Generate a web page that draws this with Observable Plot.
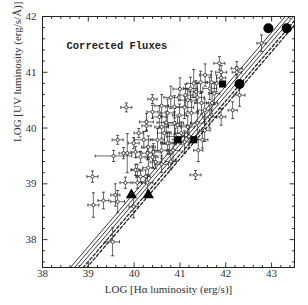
<!DOCTYPE html>
<html><head><meta charset="utf-8">
<script src="https://cdn.jsdelivr.net/npm/d3@7"></script>
<script src="https://cdn.jsdelivr.net/npm/@observablehq/plot@0.6"></script>
<style>body{margin:0;background:#fff}</style>
</head><body><div id="chart"></div>
<script>
// error-bar points: log Halpha, log UV, half-errors
const hx = [39.83,40.40,40.40,40.27,40.27,39.64,39.99,40.10,39.55,39.85,39.09,39.81,39.11,39.33,39.59,39.64,39.53,40.07,40.14,40.07,39.99,40.29,41.34,40.21,40.31,40.29,40.40,40.14,40.31,39.77,40.03,40.42,40.47,40.03,40.25,
  42.78,41.86,41.90,41.90,42.24,42.24,42.30,41.80,41.69,41.65,41.75,41.38,41.47,41.17,41.10,40.88,40.73,40.99,41.25,41.54,41.65,41.90,42.15,41.38,41.17,40.88,40.60,40.66,41.03,41.54,40.51,40.77,41.49,40.73,
  40.60,40.85,41.10,41.20,40.90,40.55,40.80,41.00,41.30,41.55,41.35,40.60,41.70,40.70,40.95,41.40,40.60,40.80,41.45,41.23,41.12];
const uv = [40.37,40.52,40.29,40.11,40.04,39.79,39.73,39.91,39.50,39.55,39.13,39.02,38.62,38.70,38.80,38.68,37.96,39.25,39.13,39.02,38.59,39.02,39.16,39.79,39.66,39.55,39.48,39.48,39.29,39.55,39.57,39.57,39.39,39.25,39.13,
  41.52,41.16,41.00,40.90,41.07,41.00,40.59,40.80,40.82,40.71,40.62,40.55,40.45,40.50,40.37,40.38,40.27,40.23,40.27,40.32,40.20,40.20,40.32,40.09,40.02,40.09,40.02,39.91,39.91,39.96,39.79,39.73,39.79,39.73,
  39.60,39.60,39.75,39.85,39.85,40.20,40.55,40.70,40.80,40.95,40.65,40.40,40.45,40.10,40.05,39.60,39.35,39.40,40.82,40.71,40.59];
const hxErr = [0.12,0.10,0.12,0.15,0.10,0.12,0.12,0.10,0.40,0.10,0.12,0.12,0.12,0.12,0.10,0.15,0.15,0.12,0.10,0.10,0.10,0.12,0.12,0.20,0.15,0.12,0.12,0.10,0.12,0.10,0.10,0.15,0.12,0.10,0.10,
  0.10,0.12,0.12,0.10,0.12,0.10,0.12,0.12,0.12,0.15,0.12,0.15,0.15,0.20,0.20,0.20,0.15,0.15,0.15,0.15,0.15,0.10,0.10,0.15,0.15,0.20,0.15,0.15,0.15,0.12,0.15,0.15,0.12,0.15,
  0.15,0.15,0.12,0.15,0.20,0.15,0.15,0.15,0.15,0.12,0.15,0.15,0.12,0.20,0.20,0.10,0.15,0.12,0.15,0.15,0.15];
const uvErr = [0.08,0.08,0.12,0.15,0.10,0.08,0.10,0.08,0.10,0.35,0.10,0.10,0.22,0.15,0.20,0.20,0.25,0.10,0.10,0.10,0.20,0.15,0.08,0.15,0.20,0.12,0.20,0.10,0.15,0.10,0.10,0.15,0.12,0.10,0.12,
  0.15,0.12,0.12,0.10,0.12,0.10,0.20,0.15,0.20,0.20,0.20,0.25,0.20,0.20,0.20,0.20,0.25,0.20,0.20,0.20,0.20,0.15,0.15,0.20,0.20,0.20,0.20,0.20,0.20,0.20,0.20,0.20,0.15,0.20,
  0.15,0.20,0.20,0.20,0.15,0.20,0.20,0.20,0.25,0.20,0.20,0.20,0.20,0.20,0.15,0.20,0.15,0.15,0.20,0.20,0.20];

// highlighted objects
const bigX = [42.93,43.33,41.93,42.30,40.95,41.30,39.94,40.31];
const bigY = [41.79,41.79,40.79,40.79,39.79,39.79,38.80,38.80];
const bigSym = ["circle","circle","square","circle","square","square","triangle","triangle"];

// reference lines y = a*x + b
const lineSlope = [0.96,0.96,0.96,0.96,0.96];
const lineIcept = [37.5-0.96*38.61, 37.5-0.96*38.70, 37.5-0.96*38.79, 37.5-0.96*38.89, 37.5-0.96*38.97];
const lineDash = [false,false,false,true,true];

const xTicks = [38,39,40,41,42,43];
const yTicks = [38,39,40,41,42];
const xDomain = [38,43.5], yDomain = [37.5,42];

const pts = hx.map((x,i)=>({x, y: uv[i], xe: hxErr[i], ye: uvErr[i]}));
const big = bigX.map((x,i)=>({x, y: bigY[i], s: bigSym[i]}));
const segs = [];
lineSlope.forEach((a,i)=>{ xDomain.forEach(x=>segs.push({x, y: a*x+lineIcept[i], k:i, dash: lineDash[i]})); });

const mk = f => ({draw(ctx, size){ const l = Math.sqrt(size/Math.PI); f(ctx,l); }});
const vbar = mk((c,l)=>{c.moveTo(0,-l);c.lineTo(0,l);});
const hbar = mk((c,l)=>{c.moveTo(-l,0);c.lineTo(l,0);});
const up = mk((c,l)=>{c.moveTo(0,0);c.lineTo(0,-l);});
const down = mk((c,l)=>{c.moveTo(0,0);c.lineTo(0,l);});
const right = mk((c,l)=>{c.moveTo(0,0);c.lineTo(l,0);});
const left = mk((c,l)=>{c.moveTo(0,0);c.lineTo(-l,0);});

const xMinor = d3.range(38, 43.51, 0.2).filter(v=>Math.abs(v-Math.round(v))>0.01);
const yMinor = d3.range(37.6, 42.01, 0.2).filter(v=>Math.abs(v-Math.round(v))>0.01);
const ink = "#222";
const tickDots = (vals, axis, at, sym, r) => Plot.dot(vals, axis==="x" ? {x: d=>d, y: ()=>at, symbol: sym, r, fill:"none", stroke: ink, strokeWidth: 0.9} : {y: d=>d, x: ()=>at, symbol: sym, r, fill:"none", stroke: ink, strokeWidth: 0.9});

const chart = Plot.plot({
  width: 308, height: 305,
  marginLeft: 42, marginRight: 14, marginTop: 16, marginBottom: 38,
  style: {fontFamily: "Liberation Serif, DejaVu Serif, serif", fontSize: "11px", color: "#333"},
  x: {domain: xDomain, ticks: xTicks, tickSize: 0, tickPadding: 2, tickFormat: d=>String(d), label: null},
  y: {domain: yDomain, ticks: yTicks, tickSize: 0, tickPadding: 6, tickFormat: d=>String(d), label: null},
  marks: [
    Plot.frame({stroke: ink, strokeWidth: 1}),
    tickDots(xTicks, "x", 37.5, up, 5), tickDots(xMinor, "x", 37.5, up, 2.5),
    tickDots(xTicks, "x", 42, down, 5), tickDots(xMinor, "x", 42, down, 2.5),
    tickDots(yTicks, "y", 38, right, 5), tickDots(yMinor, "y", 38, right, 2.5),
    tickDots(yTicks, "y", 43.5, left, 5), tickDots(yMinor, "y", 43.5, left, 2.5),
    Plot.line(segs, {x:"x", y:"y", z:"k", stroke: ink, strokeWidth: 0.9, clip: true, filter: d=>!d.dash}),
    Plot.line(segs, {x:"x", y:"y", z:"k", stroke: ink, strokeWidth: 1.3, strokeDasharray: "3,2.2", clip: true, filter: d=>d.dash}),
    Plot.link(pts, {x1: d=>d.x-d.xe, x2: d=>d.x+d.xe, y1:"y", y2:"y", stroke: ink, strokeWidth: 0.8, strokeOpacity: 0.85}),
    Plot.link(pts, {x1:"x", x2:"x", y1: d=>d.y-d.ye, y2: d=>d.y+d.ye, stroke: ink, strokeWidth: 0.8, strokeOpacity: 0.85}),
    Plot.dot(pts, {x: d=>d.x-d.xe, y:"y", symbol: vbar, r: 1.5, fill:"none", stroke: ink, strokeWidth: 0.8}),
    Plot.dot(pts, {x: d=>d.x+d.xe, y:"y", symbol: vbar, r: 1.5, fill:"none", stroke: ink, strokeWidth: 0.8}),
    Plot.dot(pts, {x:"x", y: d=>d.y-d.ye, symbol: hbar, r: 1.5, fill:"none", stroke: ink, strokeWidth: 0.8}),
    Plot.dot(pts, {x:"x", y: d=>d.y+d.ye, symbol: hbar, r: 1.5, fill:"none", stroke: ink, strokeWidth: 0.8}),
    Plot.dot(pts, {x:"x", y:"y", r: 1.6, fill:"white", stroke: ink, strokeWidth: 0.8}),
    Plot.dot(big.filter(d=>d.s==="circle"), {x:"x", y:"y", r: 5, symbol:"circle", fill:"black"}),
    Plot.dot(big.filter(d=>d.s==="square"), {x:"x", y:"y", r: 4, symbol:"square", fill:"black"}),
    Plot.dot(big.filter(d=>d.s==="triangle"), {x:"x", y:"y", r: 4.2, symbol:"triangle", fill:"black"}),
    Plot.text(["Corrected Fluxes"], {frameAnchor: "top-left", dx: 24, dy: 25, text: d=>d, fontFamily: "Liberation Mono, DejaVu Sans Mono, monospace", fontWeight: "bold", fontSize: 10.5, fill: ink, textAnchor: "start"}),
    Plot.text(["LOG [Hα luminosity (erg/s)]"], {frameAnchor: "bottom", dy: 25, text: d=>d, fontSize: 11, fill: "#333"}),
    Plot.text(["LOG [UV luminosity (erg/s/Å)]"], {frameAnchor: "left", dx: -25, rotate: -90, text: d=>d, fontSize: 11, fill: "#333"})
  ]
});
document.getElementById("chart").appendChild(chart);
</script>
</body></html>
